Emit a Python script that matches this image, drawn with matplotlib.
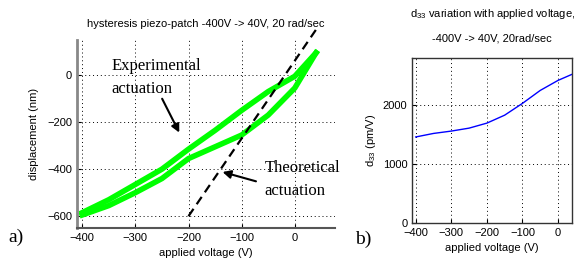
import matplotlib
matplotlib.use("Agg")
import matplotlib.pyplot as plt

# Hysteresis loop, nm vs V
volts = [-400, -350, -300, -250, -200, -150, -100, -50, 0, 40]
disp_up = [-585, -530, -465, -400, -315, -235, -150, -70, -5, 95]
disp_lo = [-595, -555, -500, -440, -355, -305, -255, -170, -55, 95]

# Theoretical actuation (dashed)
theo_v = [-200, 45]
theo_d = [-600, 210]

# d33 vs voltage
d33_v = [-400, -350, -300, -250, -200, -150, -100, -50, 0, 40]
d33 = [1460, 1520, 1560, 1610, 1695, 1830, 2030, 2250, 2420, 2525]

xticks = [-400, -300, -200, -100, 0]

sans = ["Liberation Sans", "DejaVu Sans"]
serif = ["Liberation Serif", "DejaVu Serif"]
plt.rcParams["font.family"] = sans
plt.rcParams["mathtext.fontset"] = "custom"
plt.rcParams["mathtext.rm"] = "Liberation Sans"
plt.rcParams["mathtext.it"] = "Liberation Sans"

fig = plt.figure(figsize=(5.74, 2.71), dpi=100)

# ---- a) hysteresis
ax1 = fig.add_axes([0.134, 0.159, 0.449, 0.694])
ax1.plot(volts, disp_up, color="#00ff00", lw=4)
ax1.plot(volts, disp_lo, color="#00ff00", lw=4)
ax1.plot(theo_v, theo_d, color="k", ls=(0, (4, 2.5)), lw=1.6, clip_on=False)
ax1.set_xlim(-410, 75)
ax1.set_ylim(-650, 150)
ax1.set_xticks(xticks)
ax1.set_yticks([-600, -400, -200, 0])
ax1.grid(True, color="k", ls=(0, (1, 3)), lw=0.7)
ax1.spines["top"].set_visible(False)
ax1.spines["right"].set_visible(False)
ax1.spines["left"].set_color("#888888")
ax1.spines["left"].set_linewidth(2)
ax1.spines["bottom"].set_color("#555555")
ax1.spines["bottom"].set_linewidth(1.5)
ax1.tick_params(direction="in", length=3, labelsize=8)
ax1.set_title("hysteresis piezo-patch -400V -> 40V, 20 rad/sec", fontsize=8, pad=9)
ax1.set_xlabel("applied voltage (V)", fontsize=8, labelpad=4)
ax1.set_ylabel("displacement (nm)", fontsize=8, labelpad=6)

ax1.annotate("", xy=(-215, -255), xytext=(-252, -90),
             arrowprops=dict(arrowstyle="-|>", color="k", lw=1.5, mutation_scale=12))
ax1.text(-345, -10, "Experimental\nactuation", family=serif, fontsize=12,
         ha="left", va="center", linespacing=1.6)
ax1.annotate("", xy=(-141, -409), xytext=(-68, -455),
             arrowprops=dict(arrowstyle="-|>", color="k", lw=1.5, mutation_scale=12))
ax1.text(-57, -445, "Theoretical\nactuation", family=serif, fontsize=12,
         ha="left", va="center", linespacing=1.6)
fig.text(0.015, 0.125, "a)", family=serif, fontsize=14, ha="left", va="center")

# ---- b) d33
ax2 = fig.add_axes([0.718, 0.177, 0.279, 0.609])
ax2.plot(d33_v, d33, color="#0000ff", lw=1)
ax2.set_xlim(-410, 40)
ax2.set_ylim(0, 2800)
ax2.set_xticks(xticks)
ax2.set_yticks([0, 1000, 2000])
ax2.grid(True, color="k", ls=(0, (1, 3)), lw=0.7)
for s in ax2.spines.values():
    s.set_color("#333333")
    s.set_linewidth(1)
ax2.tick_params(direction="in", length=3, labelsize=8)
ax2.set_title("d$_{33}$ variation with applied voltage,\n-400V -> 40V, 20rad/sec",
              fontsize=8, pad=12, linespacing=2.6)
ax2.set_xlabel("applied voltage (V)", fontsize=8, labelpad=4)
ax2.set_ylabel("d$_{33}$ (pm/V)", fontsize=8, labelpad=3)
fig.text(0.618, 0.115, "b)", family=serif, fontsize=14, ha="left", va="center")

fig.savefig("out.png", dpi=100)
